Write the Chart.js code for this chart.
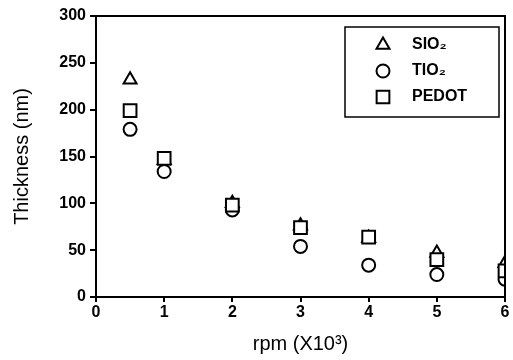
<!DOCTYPE html>
<html>
<head>
<meta charset="utf-8">
<script src="https://cdn.jsdelivr.net/npm/chart.js@4"></script>
<style>
  html, body { margin: 0; padding: 0; background: #fff; }
  #wrap { width: 513px; height: 360px; }
</style>
</head>
<body>
<div id="wrap"><canvas id="chart"></canvas></div>
<script>
const rpm = [0.5, 1, 2, 3, 4, 5, 6];
const sio2 = [232, 146, 100, 76, 63, 47, 36];
const tio2 = [179, 134, 93, 54, 34, 24, 19];
const pedot = [199, 148, 98, 74, 64, 40, 28];
const seriesNames = ["SIO₂", "TIO₂", "PEDOT"];
const markers = ["triangle", "circle", "rect"];
const markerSizes = [7.5, 6.5, 9];
const yTicks = [0, 50, 100, 150, 200, 250, 300];
const xTicks = [0, 1, 2, 3, 4, 5, 6];

const FONT = "'Liberation Sans', Arial, sans-serif";

function toPoints(ys) {
  return rpm.map((x, i) => ({ x: x, y: ys[i] }));
}

// frame around plot + legend box inside
const framePlugin = {
  id: "frame",
  afterDatasetsDraw(chart) {
    const { ctx, chartArea: a } = chart;
    ctx.save();
    ctx.strokeStyle = "#000";
    ctx.lineWidth = 2;
    ctx.strokeRect(a.left, a.top, a.right - a.left, a.bottom - a.top);

    // legend
    const bx = 345, by = 27, bw = 154, bh = 90;
    ctx.fillStyle = "#fff";
    ctx.fillRect(bx, by, bw, bh);
    ctx.lineWidth = 1.5;
    ctx.strokeRect(bx, by, bw, bh);
    chart.data.datasets.forEach((ds, i) => {
      const cy = 45 + i * 26;
      ctx.strokeStyle = "#000";
      ctx.fillStyle = "#fff";
      ctx.lineWidth = 2;
      Chart.helpers.drawPoint(ctx, {
        pointStyle: ds.pointStyle,
        radius: ds.pointRadius,
        borderWidth: 2
      }, 383, cy);
      ctx.fillStyle = "#000";
      ctx.font = "bold 16px " + FONT;
      ctx.textBaseline = "middle";
      ctx.textAlign = "left";
      ctx.fillText(ds.label, 412, cy);
    });
    ctx.restore();
  }
};

const datasets = [sio2, tio2, pedot].map((ys, i) => ({
  label: seriesNames[i],
  data: toPoints(ys),
  pointStyle: markers[i],
  pointRadius: markerSizes[i],
  pointBorderWidth: 2,
  pointBorderColor: "#000",
  pointBackgroundColor: "#fff",
  showLine: false,
  clip: 0,
  order: 2 - i
}));

new Chart(document.getElementById("chart"), {
  type: "scatter",
  data: { datasets: datasets },
  options: {
    responsive: true,
    maintainAspectRatio: false,
    animation: false,
    layout: { autoPadding: false, padding: { top: 16, right: 8, left: 0, bottom: 0 } },
    plugins: {
      legend: { display: false },
      tooltip: { enabled: false }
    },
    scales: {
      x: {
        type: "linear",
        min: 0,
        max: 6,
        afterBuildTicks: s => { s.ticks = xTicks.map(v => ({ value: v })); },
        afterFit: s => { s.height = 63; s.paddingLeft = 0; s.paddingRight = 0; },
        grid: { drawOnChartArea: false, drawTicks: true, tickLength: 5, color: "#000", lineWidth: 2 },
        border: { color: "#000", width: 2 },
        ticks: {
          color: "#000",
          font: { family: FONT, size: 16, weight: "bold" },
          padding: 1,
          maxRotation: 0
        },
        title: {
          display: true,
          text: "rpm (X10³)",
          color: "#000",
          font: { family: FONT, size: 20 },
          padding: { top: 0, bottom: 4 }
        }
      },
      y: {
        type: "linear",
        min: 0,
        max: 300,
        afterBuildTicks: s => { s.ticks = yTicks.map(v => ({ value: v })); },
        afterFit: s => { s.width = 96; s.paddingTop = 0; s.paddingBottom = 0; },
        grid: { drawOnChartArea: false, drawTicks: true, tickLength: 6, color: "#000", lineWidth: 2 },
        border: { color: "#000", width: 2 },
        ticks: {
          color: "#000",
          font: { family: FONT, size: 16, weight: "bold" },
          padding: 4
        },
        title: {
          display: true,
          text: "Thickness (nm)",
          color: "#000",
          font: { family: FONT, size: 20 },
          padding: { top: 10, bottom: 0 }
        }
      }
    }
  },
  plugins: [framePlugin]
});
</script>
</body>
</html>
